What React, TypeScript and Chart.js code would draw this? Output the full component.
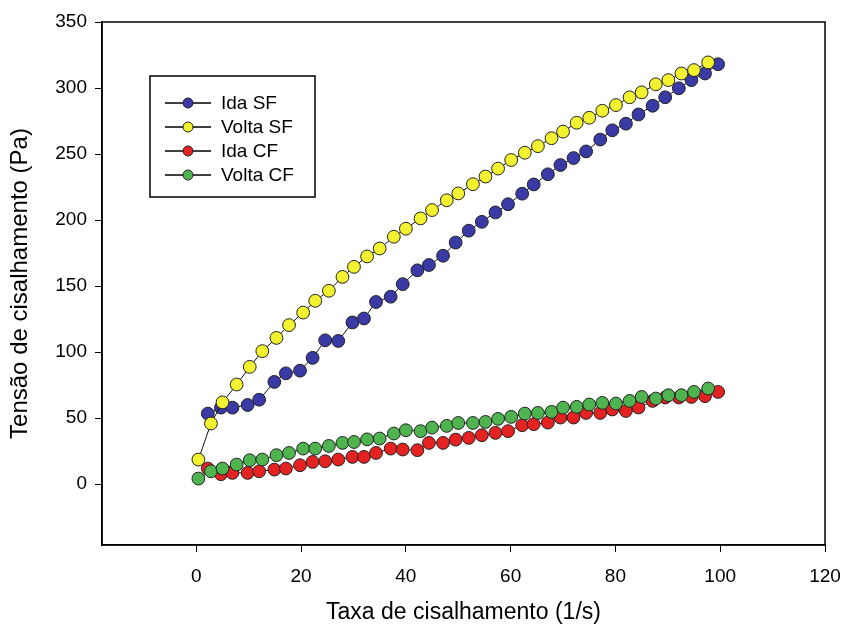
import React, { useEffect, useRef } from "react";
import { Chart, registerables } from "chart.js";

Chart.register(...registerables);

// Shear rate (1/s)
const idaRate = [2.2, 4.7, 6.9, 9.8, 12, 14.9, 17.1, 19.8, 22.2, 24.6, 27.1, 29.8, 32, 34.3, 37.1, 39.4, 42.2, 44.4, 47.1, 49.5, 52, 54.5, 57.1, 59.5, 62.2, 64.4, 67.1, 69.5, 72, 74.4, 77.1, 79.4, 82, 84.4, 87.1, 89.5, 92.1, 94.5, 97.1, 99.6];
const voltaRate = [0.4, 2.8, 5, 7.7, 10.2, 12.6, 15.3, 17.7, 20.4, 22.7, 25.3, 27.9, 30.1, 32.6, 35, 37.7, 40, 42.8, 45, 47.8, 50, 52.8, 55.2, 57.6, 60.1, 62.7, 65.2, 67.8, 70, 72.6, 75, 77.5, 80.1, 82.7, 85, 87.7, 90.1, 92.6, 95, 97.7];

// Shear stress (Pa)
const idaSF = [53.5, 58, 58, 60, 64, 77.5, 84, 86, 95.7, 109, 108.5, 122.5, 125.5, 138, 142, 151.5, 162, 166, 173, 183, 192, 198.7, 205.8, 212, 220, 227, 234.7, 241.7, 247, 252, 261, 268, 273, 280, 286.6, 293, 299.8, 306, 311, 318];
const voltaSF = [18.7, 46, 62, 75.5, 88.9, 100.8, 110.8, 120.5, 130, 138.9, 146.5, 157, 164.6, 172.5, 178.5, 187.4, 193.5, 201.3, 207.6, 215, 220.2, 227.2, 233, 239, 245.5, 251, 256, 262, 267, 273.7, 277.5, 282.8, 287.1, 293, 296.7, 302.8, 306, 311, 313.6, 319.4];
const idaCF = [11.9, 7.6, 8.6, 8.6, 9.8, 11.1, 11.9, 14.4, 16.9, 17.4, 18.7, 20.7, 20.7, 23.7, 27, 26.3, 25.8, 31.3, 31.3, 33.8, 35.1, 37.1, 38.9, 40.2, 44.7, 45.5, 46.7, 50.5, 50.5, 54, 54, 56.6, 55.5, 58.1, 63.1, 65.7, 65.7, 66.1, 66.7, 69.9];
const voltaCF = [4.3, 9.8, 11.9, 14.9, 18.2, 18.7, 22, 23.7, 27, 27, 29, 31.3, 32, 34, 34.6, 38.4, 40.9, 40.2, 42.9, 44.2, 46.4, 46.4, 47.2, 49.5, 51, 53.5, 54, 54.8, 58, 58.6, 60.4, 61.6, 61.1, 63.1, 66.1, 64.9, 67.4, 67.4, 69.9, 72.5];

const seriesLabels = ["Ida SF", "Volta SF", "Ida CF", "Volta CF"];
const xTicks = [0, 20, 40, 60, 80, 100, 120];
const yTicks = [0, 50, 100, 150, 200, 250, 300, 350];
const xTitle = "Taxa de cisalhamento (1/s)";
const yTitle = "Tensão de cisalhamento (Pa)";

const colors = ["#3a3aa6", "#f2f230", "#e52222", "#4fb34f"];
const FONT = "'Liberation Sans', Arial, sans-serif";

const pairs = (xs: number[], ys: number[]) => xs.map((x, i) => ({ x, y: ys[i] }));

const framePlugin = {
  id: "frame",
  afterDatasetsDraw(chart: any) {
    const { ctx, chartArea } = chart;
    ctx.save();
    ctx.strokeStyle = "#000";
    ctx.lineWidth = 1.5;
    ctx.strokeRect(chartArea.left, chartArea.top, chartArea.right - chartArea.left, chartArea.bottom - chartArea.top);
    ctx.restore();
  },
};

const legendPlugin = {
  id: "boxLegend",
  afterDraw(chart: any) {
    const { ctx } = chart;
    const bx = 150, by = 76, bw = 165, bh = 121;
    ctx.save();
    ctx.fillStyle = "#fff";
    ctx.fillRect(bx, by, bw, bh);
    ctx.strokeStyle = "#000";
    ctx.lineWidth = 1.5;
    ctx.strokeRect(bx, by, bw, bh);
    chart.data.datasets.forEach((ds: any, i: number) => {
      const y = 103 + i * 24;
      ctx.strokeStyle = "#000";
      ctx.lineWidth = 1.6;
      ctx.beginPath();
      ctx.moveTo(165, y);
      ctx.lineTo(211, y);
      ctx.stroke();
      ctx.beginPath();
      ctx.arc(188, y, 5, 0, Math.PI * 2);
      ctx.fillStyle = ds.pointBackgroundColor;
      ctx.fill();
      ctx.lineWidth = 1;
      ctx.strokeStyle = "#222";
      ctx.stroke();
      ctx.fillStyle = "#000";
      ctx.font = `19px ${FONT}`;
      ctx.textBaseline = "middle";
      ctx.textAlign = "left";
      ctx.fillText(ds.label, 221, y + 1);
    });
    ctx.restore();
  },
};

export default function App() {
  const ref = useRef<HTMLCanvasElement>(null);
  useEffect(() => {
    if (!ref.current) return;
    const seriesData = [pairs(idaRate, idaSF), pairs(voltaRate, voltaSF), pairs(idaRate, idaCF), pairs(voltaRate, voltaCF)];
    const chart = new Chart(ref.current, {
      type: "scatter",
      data: {
        datasets: seriesLabels.map((label, i) => ({
          label,
          data: seriesData[i],
          showLine: true,
          borderColor: "#111",
          borderWidth: 1,
          pointRadius: 6.4,
          pointBackgroundColor: colors[i],
          pointBorderColor: "#222",
          pointBorderWidth: 1,
          order: 4 - i,
        })),
      },
      options: {
        animation: false,
        responsive: false,
        devicePixelRatio: 1,
        layout: { padding: { top: 22, right: 20, left: 0, bottom: 0 } },
        plugins: { legend: { display: false }, tooltip: { enabled: false } },
        scales: {
          x: {
            type: "linear",
            min: -18,
            max: 120,
            afterBuildTicks: (axis: any) => {
              axis.ticks = xTicks.map((v) => ({ value: v }));
            },
            afterFit: (axis: any) => {
              axis.height = 85;
              axis.paddingLeft = 0;
              axis.paddingRight = 0;
            },
            ticks: { color: "#000", font: { family: FONT, size: 19 }, padding: 13, maxRotation: 0 },
            grid: { display: true, drawOnChartArea: false, drawTicks: true, tickLength: 7, color: "#000", lineWidth: 1 },
            border: { display: true, color: "#000", width: 1.5 },
            title: { display: true, text: xTitle, color: "#000", font: { family: FONT, size: 23 }, padding: { top: 0, bottom: 4 } },
          },
          y: {
            type: "linear",
            min: -46,
            max: 350,
            afterBuildTicks: (axis: any) => {
              axis.ticks = yTicks.map((v) => ({ value: v }));
            },
            afterFit: (axis: any) => {
              axis.width = 102;
              axis.paddingTop = 0;
              axis.paddingBottom = 0;
            },
            ticks: { color: "#000", font: { family: FONT, size: 19 }, padding: 8 },
            grid: { display: true, drawOnChartArea: false, drawTicks: true, tickLength: 7, color: "#000", lineWidth: 1 },
            border: { display: true, color: "#000", width: 1.5 },
            title: { display: true, text: yTitle, color: "#000", font: { family: FONT, size: 24 }, padding: { top: 6, bottom: 0 } },
          },
        },
      },
      plugins: [framePlugin, legendPlugin],
    } as any);
    return () => chart.destroy();
  }, []);
  return (
    <div style={{ position: "fixed", left: 0, top: 0, width: 845, height: 630, background: "#fff" }}>
      <canvas ref={ref} width={845} height={630} />
    </div>
  );
}
